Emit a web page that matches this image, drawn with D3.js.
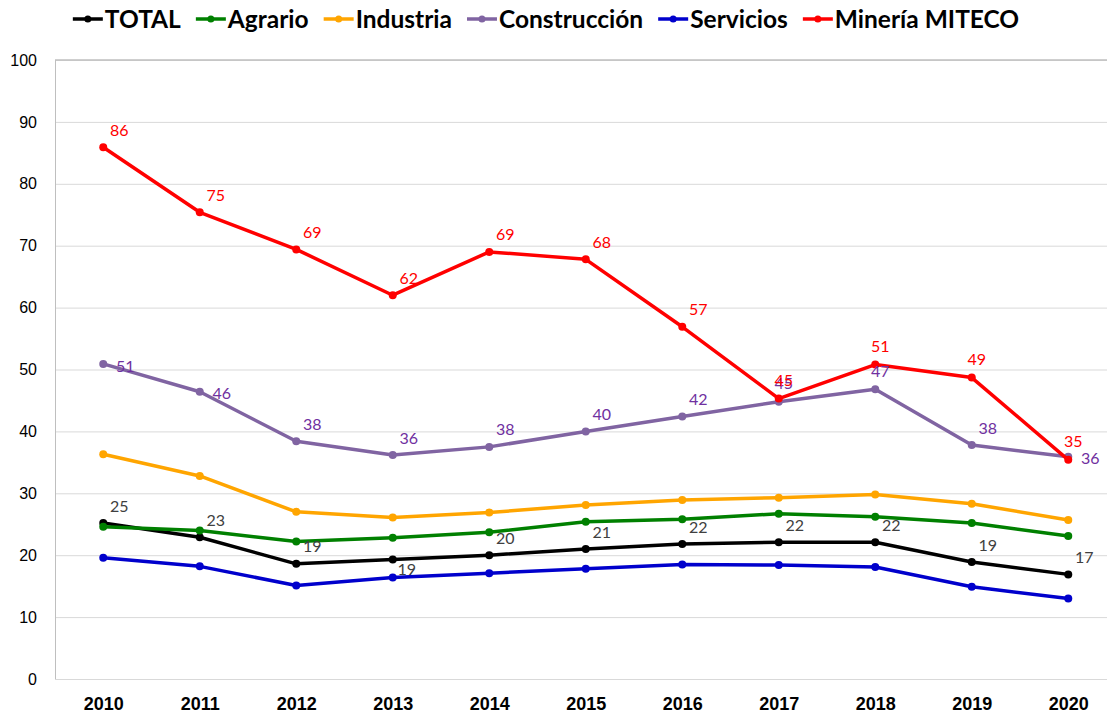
<!DOCTYPE html>
<html lang="es">
<head>
<meta charset="UTF-8"/>
<title>Series 2010-2020</title>
<script src="https://d3js.org/d3.v7.min.js"></script>
<style>
  body { margin: 0; background: #fff; }
  svg { font-family: Lato, "Open Sans", sans-serif; }
  .grid line { stroke: #d9d9d9; }
  .grid path { display: none; }
  .ytick text { font-size: 16px; fill: #000; }
  .xtick text { font-size: 18px; font-weight: bold; fill: #000; }
  .legend text { font-size: 24.5px; font-weight: bold; }
  .lbl { font-size: 16px; }
</style>
</head>
<body>
<svg width="1107" height="716"></svg>
<script>
const years = [2010, 2011, 2012, 2013, 2014, 2015, 2016, 2017, 2018, 2019, 2020];
const yTicks = [0, 10, 20, 30, 40, 50, 60, 70, 80, 90, 100];

const total        = [25.2, 22.9, 18.6, 19.3, 20.0, 21.0, 21.8, 22.1, 22.1, 18.9, 16.9];
const agrario      = [24.6, 24.0, 22.2, 22.8, 23.7, 25.4, 25.8, 26.7, 26.2, 25.2, 23.1];
const industria    = [36.3, 32.8, 27.0, 26.1, 26.9, 28.1, 28.9, 29.3, 29.8, 28.3, 25.7];
const construccion = [50.9, 46.4, 38.4, 36.2, 37.5, 40.0, 42.4, 44.8, 46.8, 37.8, 35.9];
const servicios    = [19.6, 18.2, 15.1, 16.4, 17.1, 17.8, 18.5, 18.4, 18.1, 14.9, 13.0];
const mineria      = [85.9, 75.4, 69.4, 62.0, 69.0, 67.8, 56.9, 45.3, 50.8, 48.7, 35.4];

// where each data label sits: ar = above right, a = above, r = right, br = below right
const totalLabelPos  = ['ar', 'ar', 'ar', 'br', 'ar', 'ar', 'ar', 'ar', 'ar', 'ar', 'ar'];
const constrLabelPos = ['r', 'r', 'ar', 'ar', 'ar', 'ar', 'ar', 'a', 'a', 'ar', 'r'];
const minLabelPos    = ['ar', 'ar', 'ar', 'ar', 'ar', 'ar', 'ar', 'a', 'a', 'a', 'a'];

const series = [
  { name: 'TOTAL',        values: total,        color: '#000000', label: '#404040', pos: totalLabelPos },
  { name: 'Agrario',      values: agrario,      color: '#008000' },
  { name: 'Industria',    values: industria,    color: '#ffa500' },
  { name: 'Construcción', values: construccion, color: '#8064a2', label: '#7030a0', pos: constrLabelPos },
  { name: 'Servicios',    values: servicios,    color: '#0000cc' },
  { name: 'Minería MITECO', values: mineria,    color: '#ff0000', label: '#ff0000', pos: minLabelPos }
];

const svg = d3.select('svg');
const plotLeft = 55, plotTop = 60, plotBottom = 679;
const step = 96.5;

const x = d3.scalePoint()
  .domain(years)
  .range([plotLeft + step / 2, plotLeft + step / 2 + step * (years.length - 1)]);

const y = d3.scaleLinear()
  .domain([0, 100])
  .range([plotBottom, plotTop]);

// horizontal grid
svg.append('g')
  .attr('class', 'grid')
  .attr('transform', `translate(${plotLeft},0)`)
  .call(d3.axisLeft(y).tickValues(yTicks).tickSize(-(1107 - plotLeft)).tickFormat(''));

svg.append('line')
  .attr('x1', plotLeft).attr('x2', 1107)
  .attr('y1', y(100)).attr('y2', y(100))
  .attr('stroke', '#bfbfbf').attr('stroke-width', 1.5);

svg.append('line')
  .attr('x1', plotLeft + 0.5).attr('x2', plotLeft + 0.5)
  .attr('y1', plotTop).attr('y2', plotBottom)
  .attr('stroke', '#bfbfbf');

// y tick labels
const yAxis = svg.append('g')
  .attr('class', 'ytick')
  .attr('transform', `translate(${plotLeft},0)`)
  .call(d3.axisLeft(y).tickValues(yTicks).tickSize(0).tickPadding(18));
yAxis.select('.domain').remove();

// x tick labels
const xAxis = svg.append('g')
  .attr('class', 'xtick')
  .attr('transform', `translate(0,${plotBottom})`)
  .call(d3.axisBottom(x).tickSize(0).tickPadding(18));
xAxis.select('.domain').remove();

const line = d3.line()
  .x((d, i) => x(years[i]))
  .y(d => y(d));

series.forEach(s => {
  const g = svg.append('g');
  g.append('path')
    .attr('d', line(s.values))
    .attr('fill', 'none')
    .attr('stroke', s.color)
    .attr('stroke-width', 3.5)
    .attr('stroke-linejoin', 'round');
  g.selectAll('circle')
    .data(s.values)
    .join('circle')
    .attr('cx', (d, i) => x(years[i]))
    .attr('cy', d => y(d))
    .attr('r', 4)
    .attr('fill', s.color);
});

const offsets = {
  ar: [16, -17],
  a:  [5, -18],
  r:  [22, 2],
  br: [14, 10]
};

series.filter(s => s.label).forEach(s => {
  svg.append('g')
    .selectAll('text')
    .data(s.values)
    .join('text')
    .attr('class', 'lbl')
    .attr('x', (d, i) => x(years[i]) + offsets[s.pos[i]][0])
    .attr('y', (d, i) => y(d) + offsets[s.pos[i]][1])
    .attr('dy', '0.35em')
    .attr('text-anchor', 'middle')
    .attr('fill', s.label)
    .text(d => Math.round(d));
});

// legend
const legend = svg.append('g').attr('class', 'legend');
let lx = 0;
series.forEach(s => {
  const item = legend.append('g').attr('transform', `translate(${lx},0)`);
  item.append('line')
    .attr('x1', 0).attr('x2', 30)
    .attr('y1', 0).attr('y2', 0)
    .attr('stroke', s.color).attr('stroke-width', 3.5);
  item.append('circle')
    .attr('cx', 15).attr('cy', 0).attr('r', 3.5)
    .attr('fill', s.color);
  const t = item.append('text')
    .attr('x', 32).attr('y', 0).attr('dy', '0.35em')
    .text(s.name);
  lx += 32 + t.node().getComputedTextLength() + 15;
});
const legendWidth = lx - 15;
legend.attr('transform', `translate(${546 - legendWidth / 2},19)`);
</script>
</body>
</html>
